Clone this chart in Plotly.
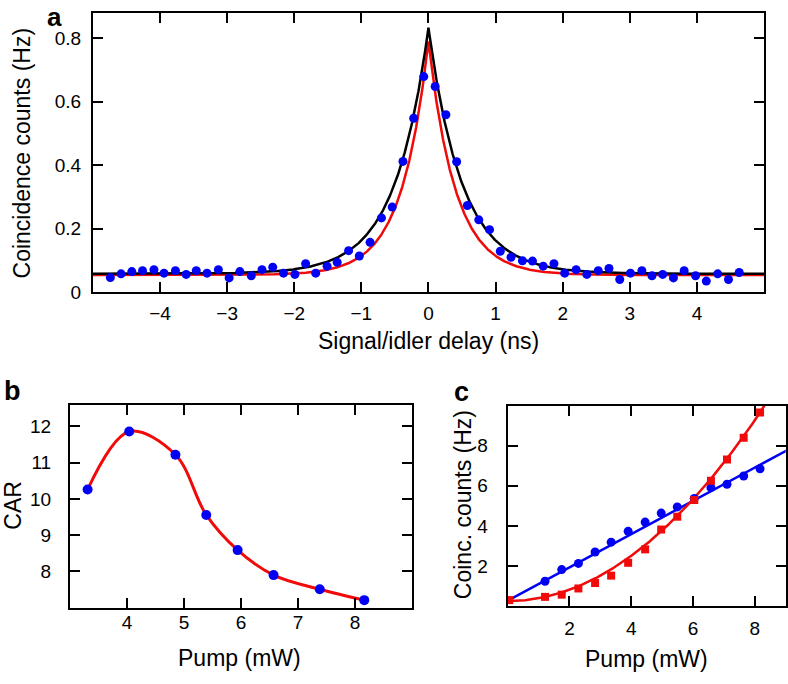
import numpy as np
import plotly.graph_objects as go

W, H = 788, 684
FONT = "Liberation Sans, Arial, Helvetica, sans-serif"
BLUE = "#0000f5"
RED = "#f00a0a"

# ---------------- Panel a: coincidence histogram ----------------
delay_ns = [-4.74, -4.58, -4.42, -4.26, -4.09, -3.94, -3.77, -3.61, -3.46, -3.30,
            -3.13, -2.97, -2.81, -2.64, -2.48, -2.32, -2.16, -1.99, -1.83, -1.68,
            -1.51, -1.36, -1.19, -1.03, -0.87, -0.70, -0.54, -0.38, -0.22, -0.07,
            0.10, 0.26, 0.42, 0.58, 0.75, 0.91, 1.07, 1.23, 1.40, 1.55,
            1.71, 1.87, 2.03, 2.20, 2.36, 2.53, 2.69, 2.85, 3.01, 3.18,
            3.33, 3.49, 3.65, 3.81, 3.98, 4.14, 4.31, 4.47, 4.63]
coinc_hz = [0.046, 0.058, 0.065, 0.068, 0.071, 0.060, 0.068, 0.056, 0.068, 0.060,
            0.071, 0.045, 0.065, 0.052, 0.071, 0.079, 0.060, 0.056, 0.090, 0.060,
            0.082, 0.094, 0.131, 0.114, 0.157, 0.234, 0.268, 0.412, 0.548, 0.679,
            0.648, 0.559, 0.411, 0.273, 0.228, 0.197, 0.129, 0.110, 0.099, 0.098,
            0.082, 0.090, 0.060, 0.071, 0.056, 0.068, 0.075, 0.040, 0.060, 0.068,
            0.052, 0.056, 0.045, 0.068, 0.052, 0.035, 0.058, 0.040, 0.062]
# two-sided exponential model curves (base + amp * exp(-|t|/tau))
black_base, black_amp, black_tau = 0.058, 0.775, 0.50
red_base, red_amp, red_tau = 0.054, 0.736, 0.40

# ---------------- Panel b: CAR vs pump ----------------
car_pump_mw = [3.31, 4.04, 4.85, 5.39, 5.94, 6.57, 7.38, 8.16]
car_values = [10.26, 11.86, 11.22, 9.56, 8.59, 7.90, 7.51, 7.21]

# ---------------- Panel c: coincidence counts vs pump ----------------
pump_blue_mw = [1.21, 1.75, 2.29, 2.83, 3.35, 3.90, 4.45, 4.97, 5.49, 6.04, 6.58, 7.10, 7.64, 8.17]
counts_blue = [1.24, 1.82, 2.13, 2.70, 3.19, 3.73, 4.19, 4.64, 4.95, 5.37, 5.91, 6.08, 6.49, 6.85]
pump_red_mw = [0.05, 1.21, 1.75, 2.29, 2.83, 3.35, 3.90, 4.45, 4.97, 5.49, 6.04, 6.58, 7.10, 7.64, 8.17]
counts_red = [0.30, 0.46, 0.57, 0.88, 1.15, 1.52, 2.16, 2.83, 3.82, 4.46, 5.29, 6.26, 7.31, 8.40, 9.66]
# fit models: linear (blue) and quadratic (red)
blue_fit_intercept, blue_fit_slope = 0.27, 0.83
red_fit_c0, red_fit_c2 = 0.25, 0.141

fig = go.Figure()

# panel a
t = np.linspace(-5, 5, 2001)
fig.add_trace(go.Scatter(x=t, y=red_base + red_amp * np.exp(-np.abs(t) / red_tau),
                         mode="lines", line=dict(color=RED, width=2.5),
                         xaxis="x", yaxis="y", showlegend=False))
fig.add_trace(go.Scatter(x=t, y=black_base + black_amp * np.exp(-np.abs(t) / black_tau),
                         mode="lines", line=dict(color="black", width=2.5),
                         xaxis="x", yaxis="y", showlegend=False))
fig.add_trace(go.Scatter(x=delay_ns, y=coinc_hz, mode="markers",
                         marker=dict(color=BLUE, size=9),
                         xaxis="x", yaxis="y", showlegend=False))

# panel b
fig.add_trace(go.Scatter(x=car_pump_mw, y=car_values, mode="lines",
                         line=dict(color=RED, width=3, shape="spline", smoothing=1.0),
                         xaxis="x2", yaxis="y2", showlegend=False))
fig.add_trace(go.Scatter(x=car_pump_mw, y=car_values, mode="markers",
                         marker=dict(color=BLUE, size=10),
                         xaxis="x2", yaxis="y2", showlegend=False))

# panel c
xb = np.linspace(pump_red_mw[0], 9.2, 50)
fig.add_trace(go.Scatter(x=xb, y=blue_fit_intercept + blue_fit_slope * xb, mode="lines",
                         line=dict(color=BLUE, width=2.5),
                         xaxis="x3", yaxis="y3", showlegend=False))
xr = np.linspace(pump_red_mw[0], 8.6, 200)
fig.add_trace(go.Scatter(x=xr, y=red_fit_c0 + red_fit_c2 * xr ** 2, mode="lines",
                         line=dict(color=RED, width=2.5),
                         xaxis="x3", yaxis="y3", showlegend=False))
fig.add_trace(go.Scatter(x=pump_blue_mw, y=counts_blue, mode="markers",
                         marker=dict(color=BLUE, size=9),
                         xaxis="x3", yaxis="y3", showlegend=False))
fig.add_trace(go.Scatter(x=pump_red_mw, y=counts_red, mode="markers",
                         marker=dict(color=RED, size=8, symbol="square"),
                         xaxis="x3", yaxis="y3", showlegend=False))


def axis(domain, rng, tickvals, ticktext, anchor, standoff):
    return dict(domain=domain, range=rng, tickvals=tickvals, ticktext=ticktext,
                anchor=anchor, showline=True, linecolor="black", linewidth=2,
                mirror="ticks", ticks="inside", ticklen=10, tickwidth=2,
                tickcolor="black", showgrid=False, zeroline=False,
                ticklabelstandoff=standoff,
                tickfont=dict(size=19, color="black", family=FONT))


def px(xp):
    return xp / W


def py(yp):
    return 1 - yp / H


ax_a_x = [-4, -3, -2, -1, 0, 1, 2, 3, 4]
ax_a_y = [0, 0.2, 0.4, 0.6, 0.8]
fig.update_layout(
    xaxis=axis([px(93), px(765)], [-5, 5], ax_a_x,
               [str(v).replace("-", "\u2212") for v in ax_a_x], "y", 3),
    yaxis=axis([py(297), py(13)], [0, 0.88], ax_a_y,
               ["0", "0.2", "0.4", "0.6", "0.8"], "x", 6),
    xaxis2=axis([px(70), px(412.7)], [3, 9], [4, 5, 6, 7, 8],
                ["4", "5", "6", "7", "8"], "y2", -4),
    yaxis2=axis([py(617.7), py(412)], [7.0, 12.58], [8, 9, 10, 11, 12],
                ["8", "9", "10", "11", "12"], "x2", 13),
    xaxis3=axis([px(508.3), px(786.7)], [0, 9], [2, 4, 6, 8],
                ["2", "4", "6", "8"], "y3", 4),
    yaxis3=axis([py(616), py(412.3)], [0, 10], [2, 4, 6, 8],
                ["2", "4", "6", "8"], "x3", 14),
)

annots = [
    ("Signal/idler delay (ns)", 429, 347, 0, 23, False),
    ("Coincidence counts (Hz)", 22, 155, -90, 23, False),
    ("Pump (mW)", 240, 669, 0, 23, False),
    ("CAR", 13, 513, -90, 23, False),
    ("Pump (mW)", 647, 670, 0, 23, False),
    ("Coinc. counts (Hz)", 463, 513, -90, 23, False),
    ("a", 55, 17, 0, 26, True),
    ("b", 13, 397, 0, 27, True),
    ("c", 462, 398, 0, 27, True),
]
fig.update_layout(annotations=[
    dict(text=("<b>%s</b>" % s) if bold else s, x=px(xp), y=py(yp), xref="paper", yref="paper",
         xanchor="center", yanchor="middle", textangle=ang, showarrow=False,
         font=dict(size=fs, color="black", family=FONT))
    for s, xp, yp, ang, fs, bold in annots
])

fig.update_layout(width=W, height=H, margin=dict(l=0, r=0, t=0, b=0),
                  paper_bgcolor="white", plot_bgcolor="white",
                  font=dict(family=FONT, color="black"))

post = (
    "document.documentElement.style.overflow='hidden';"
    "document.body.style.margin='0';document.body.style.overflow='hidden';"
    "var gd=document.getElementById('{plot_id}');"
    "gd.style.position='fixed';gd.style.left='0px';gd.style.top='0px';"
)
fig.write_html("out.html", config={"displayModeBar": False}, post_script=post)
